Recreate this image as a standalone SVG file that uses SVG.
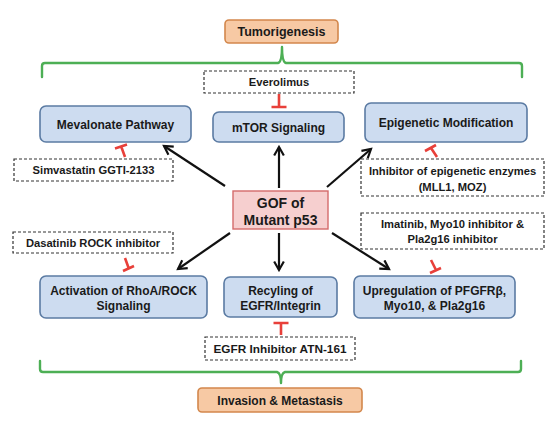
<svg xmlns="http://www.w3.org/2000/svg" width="554" height="427" viewBox="0 0 554 427">
<defs>
<style>
text{font-family:"Liberation Sans",Arial,sans-serif;font-weight:bold;font-size:12px;fill:#1a1a1a;text-anchor:middle}
.dt{font-size:11.2px}
.blue{fill:#cddcf0;stroke:#5b7ba3;stroke-width:1.6}
.orange{fill:#f7c9a4;stroke:#d3874c;stroke-width:1.6}
.gof{fill:#f6cfcf;stroke:#d46b6b;stroke-width:1.4}
.dash{fill:#fff;stroke:#333;stroke-width:1.2;stroke-dasharray:3,2}
.br{fill:none;stroke:#4daf55;stroke-width:2.4;stroke-linejoin:round;stroke-linecap:round}
.arr{stroke:#111;stroke-width:2.2;fill:none;marker-end:url(#ah)}
.inh{stroke:#e8403a;stroke-width:2.6;fill:none}
</style>
<marker id="ah" viewBox="0 0 10 10" refX="8" refY="5" markerWidth="5.5" markerHeight="5.5" orient="auto" markerUnits="strokeWidth">
<polyline points="1,1 8,5 1,9" fill="none" stroke="#111" stroke-width="1.8"/>
</marker>
</defs>

<g id="brackets">
<path class="br" d="M42,77 L42,66 Q42,63 45,63 L278,63 Q282,62 282,47 Q282,62 286,63 L519,63 Q522,63 522,66 L522,77"/>
<path class="br" d="M40,361 L40,369 Q40,372 43,372 L277,372 Q281,373 281,383 Q281,373 285,372 L518,372 Q521,372 521,369 L521,361"/>
</g>

<g id="tumorigenesis"><rect class="orange" x="225" y="20" width="113" height="23" rx="4"/><text x="281.5" y="36" style="font-size:12.5px">Tumorigenesis</text></g>
<g id="invasion"><rect class="orange" x="198" y="388" width="164" height="24" rx="4"/><text x="280" y="404.5">Invasion &amp; Metastasis</text></g>

<g id="everolimus"><rect class="dash" x="204" y="71" width="150" height="22"/><text class="dt" x="279" y="86">Everolimus</text></g>
<g id="simvastatin"><rect class="dash" x="14" y="159" width="159" height="22"/><text class="dt" x="93.5" y="174">Simvastatin GGTI-2133</text></g>
<g id="epi-inhibitor"><rect class="dash" x="361" y="159" width="183" height="37"/><text class="dt" x="452.5" y="175">Inhibitor of epigenetic enzymes</text><text class="dt" x="452.5" y="190.5">(MLL1, MOZ)</text></g>
<g id="dasatinib"><rect class="dash" x="13" y="232" width="160" height="21"/><text class="dt" x="93" y="246.5">Dasatinib ROCK inhibitor</text></g>
<g id="imatinib"><rect class="dash" x="361" y="213" width="183" height="36"/><text class="dt" x="452.5" y="228">Imatinib, Myo10 inhibitor &amp;</text><text class="dt" x="452.5" y="242.5">Pla2g16 inhibitor</text></g>
<g id="egfr-inhibitor"><rect class="dash" x="205" y="337" width="150" height="23"/><text class="dt" x="280" y="352.5" style="font-size:11.8px">EGFR Inhibitor ATN-161</text></g>

<g id="mevalonate"><rect class="blue" x="40" y="106" width="151" height="36" rx="6"/><text x="115.5" y="129">Mevalonate Pathway</text></g>
<g id="mtor"><rect class="blue" x="213" y="112" width="131" height="30" rx="6"/><text x="278.5" y="131.5">mTOR Signaling</text></g>
<g id="epigenetic"><rect class="blue" x="365" y="103" width="162" height="39" rx="6"/><text x="446" y="127">Epigenetic Modification</text></g>
<g id="activation"><rect class="blue" x="40" y="276" width="167" height="42" rx="6"/><text x="123.5" y="295">Activation of RhoA/ROCK</text><text x="123.5" y="310">Signaling</text></g>
<g id="recycling"><rect class="blue" x="224" y="277" width="113" height="40" rx="6"/><text x="280.5" y="295">Recyling of</text><text x="280.5" y="310">EGFR/Integrin</text></g>
<g id="upregulation"><rect class="blue" x="354" y="276" width="161" height="42" rx="6"/><text x="434.5" y="294.5">Upregulation of PFGFRβ,</text><text x="434.5" y="309.5">Myo10, &amp; Pla2g16</text></g>

<g id="gof"><rect class="gof" x="233" y="191" width="95" height="38"/><text x="280.5" y="207.5" style="font-size:14px">GOF of</text><text x="280.5" y="224.5" style="font-size:14px">Mutant p53</text></g>

<g id="connectors">
<line class="arr" x1="279" y1="188" x2="279" y2="147"/>
<line class="arr" x1="279" y1="233" x2="279" y2="270"/>
<line class="arr" x1="225" y1="186" x2="164" y2="146"/>
<line class="arr" x1="327" y1="187" x2="371" y2="149"/>
<line class="arr" x1="230" y1="233" x2="178" y2="269"/>
<line class="arr" x1="332" y1="233" x2="389" y2="269"/>
<path class="inh" d="M279,94 L279,106 M271.5,107 L286.5,107"/>
<path class="inh" d="M281,335 L281,323 M273.5,323 L288.5,323"/>
<path class="inh" d="M125,157 L121,146 M115,148.5 L127,144.5"/>
<path class="inh" d="M437,157 L431,148 M425,151 L436,145"/>
<path class="inh" d="M125,258 L129,269 M123,271 L134,266"/>
<path class="inh" d="M431,260 L436,270 M430,273 L441,268"/>
</g>
</svg>
